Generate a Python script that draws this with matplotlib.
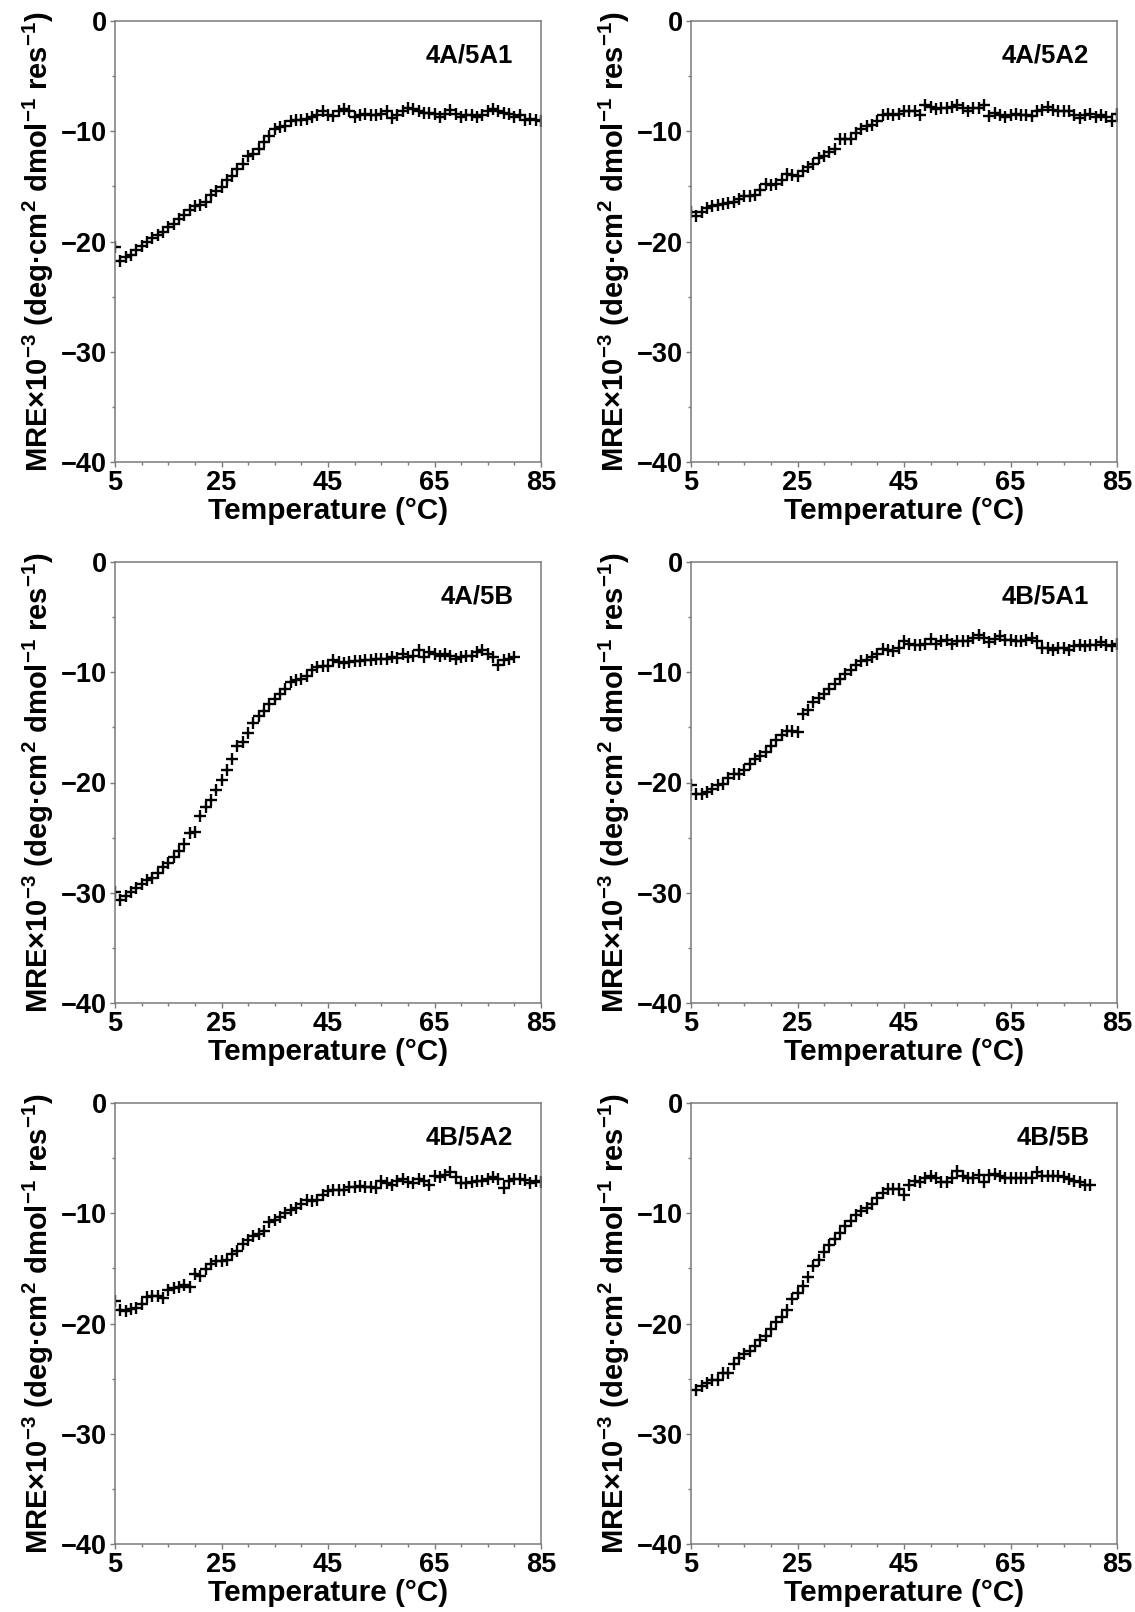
import matplotlib
matplotlib.use("Agg")
import matplotlib.pyplot as plt
from matplotlib.ticker import MultipleLocator, FixedLocator

plt.rcParams['font.family'] = ['Liberation Sans', 'DejaVu Sans']
plt.rcParams['font.weight'] = 'bold'
plt.rcParams['mathtext.default'] = 'regular'

# ---------------- data ----------------
TEMPS_5_85 = [5, 6, 7, 8, 9, 10, 11, 12, 13, 14, 15, 16, 17, 18, 19, 20, 21, 22, 23, 24, 25,
              26, 27, 28, 29, 30, 31, 32, 33, 34, 35, 36, 37, 38, 39, 40, 41, 42, 43, 44, 45,
              46, 47, 48, 49, 50, 51, 52, 53, 54, 55, 56, 57, 58, 59, 60, 61, 62, 63, 64, 65,
              66, 67, 68, 69, 70, 71, 72, 73, 74, 75, 76, 77, 78, 79, 80, 81, 82, 83, 84, 85]
TEMPS_5_80 = [5, 6, 7, 8, 9, 10, 11, 12, 13, 14, 15, 16, 17, 18, 19, 20, 21, 22, 23, 24, 25,
              26, 27, 28, 29, 30, 31, 32, 33, 34, 35, 36, 37, 38, 39, 40, 41, 42, 43, 44, 45,
              46, 47, 48, 49, 50, 51, 52, 53, 54, 55, 56, 57, 58, 59, 60, 61, 62, 63, 64, 65,
              66, 67, 68, 69, 70, 71, 72, 73, 74, 75, 76, 77, 78, 79, 80]
TEMPS_6_80 = [6, 7, 8, 9, 10, 11, 12, 13, 14, 15, 16, 17, 18, 19, 20, 21, 22, 23, 24, 25,
              26, 27, 28, 29, 30, 31, 32, 33, 34, 35, 36, 37, 38, 39, 40, 41, 42, 43, 44, 45,
              46, 47, 48, 49, 50, 51, 52, 53, 54, 55, 56, 57, 58, 59, 60, 61, 62, 63, 64, 65,
              66, 67, 68, 69, 70, 71, 72, 73, 74, 75, 76, 77, 78, 79, 80]

MRE_4A_5A1 = [-20.5, -21.8, -21.4, -21.2, -20.8, -20.4, -20.0, -19.7, -19.4, -19.1, -18.7,
              -18.4, -18.0, -17.6, -17.1, -16.8, -16.7, -16.4, -15.8, -15.4, -15.1,
              -14.4, -14.1, -13.4, -13.0, -12.2, -12.1, -11.6, -11.0, -10.4, -9.8,
              -9.6, -9.5, -9.1, -9.0, -9.0, -8.9, -8.7, -8.5, -8.2, -8.5,
              -8.6, -8.2, -8.0, -8.2, -8.7, -8.5, -8.4, -8.5, -8.5, -8.4,
              -8.2, -8.8, -8.5, -8.2, -7.9, -8.0, -8.2, -8.3, -8.3, -8.4,
              -8.7, -8.4, -8.1, -8.4, -8.7, -8.5, -8.5, -8.7, -8.5, -8.2,
              -8.0, -8.2, -8.3, -8.4, -8.7, -8.5, -9.0, -8.9, -9.0, -9.1]
MRE_4A_5A2 = [-17.3, -17.7, -17.3, -17.0, -16.8, -16.7, -16.6, -16.5, -16.4, -16.1, -15.9,
              -15.9, -15.8, -15.3, -14.8, -14.9, -14.8, -14.4, -13.9, -14.0, -14.1,
              -13.6, -13.2, -13.0, -12.4, -12.2, -11.9, -11.6, -10.7, -10.7, -10.7,
              -10.2, -9.8, -9.5, -9.4, -9.1, -8.5, -8.4, -8.5, -8.4, -8.2,
              -8.2, -8.2, -8.5, -7.6, -7.8, -8.0, -7.9, -7.9, -7.8, -7.6,
              -7.9, -8.2, -7.9, -7.9, -7.6, -8.6, -8.3, -8.5, -8.7, -8.5,
              -8.4, -8.5, -8.5, -8.6, -8.2, -8.1, -7.8, -8.1, -8.2, -8.2,
              -8.2, -8.5, -8.8, -8.5, -8.4, -8.7, -8.5, -8.7, -9.1, -8.4]
MRE_4A_5B = [-29.9, -30.7, -30.3, -29.9, -29.6, -29.2, -28.8, -28.7, -28.2, -27.7, -27.3,
             -26.8, -26.2, -25.6, -24.6, -24.5, -23.0, -22.2, -21.6, -20.7, -19.8,
             -18.9, -17.9, -16.7, -16.3, -15.5, -14.6, -14.0, -13.5, -12.9, -12.4,
             -12.0, -11.5, -10.9, -10.7, -10.6, -10.3, -9.8, -9.5, -9.4, -9.4,
             -8.9, -9.1, -9.2, -9.1, -9.0, -9.0, -8.9, -8.9, -8.8, -8.8,
             -8.8, -8.6, -8.7, -8.3, -8.6, -8.5, -8.0, -8.6, -8.2, -8.3,
             -8.5, -8.3, -8.5, -8.8, -8.6, -8.5, -8.5, -8.2, -8.0, -8.3,
             -8.6, -9.3, -8.9, -8.8, -8.6]
MRE_4B_5A1 = [-20.2, -21.0, -21.0, -20.9, -20.6, -20.2, -20.1, -19.6, -19.2, -19.2, -18.9,
              -18.3, -17.9, -17.6, -17.2, -16.7, -16.1, -15.7, -15.3, -15.3, -15.4,
              -13.8, -13.4, -12.7, -12.3, -12.0, -11.5, -11.1, -10.6, -10.2, -9.8,
              -9.3, -9.0, -8.9, -8.6, -8.3, -7.9, -8.0, -8.1, -7.8, -7.2,
              -7.4, -7.5, -7.5, -7.4, -7.0, -7.4, -7.2, -7.1, -7.4, -7.2,
              -7.2, -7.2, -6.9, -6.6, -6.9, -7.3, -7.0, -6.7, -7.1, -7.1,
              -7.2, -7.2, -7.1, -6.9, -7.2, -7.8, -7.8, -8.0, -7.8, -7.8,
              -8.0, -7.6, -7.5, -7.6, -7.5, -7.5, -7.3, -7.5, -7.6, -7.4]
MRE_4B_5A2 = [-18.0, -18.8, -18.9, -18.7, -18.6, -18.2, -17.6, -17.5, -17.5, -17.7, -17.0,
              -16.8, -16.7, -16.5, -16.7, -15.5, -15.7, -15.1, -14.6, -14.3, -14.3,
              -14.2, -13.7, -13.4, -12.8, -12.4, -12.1, -11.9, -11.6, -10.8, -10.6,
              -10.3, -10.0, -9.7, -9.5, -9.2, -8.8, -8.9, -8.8, -8.3, -8.0,
              -7.9, -7.9, -7.9, -7.6, -7.6, -7.5, -7.6, -7.6, -7.7, -7.1,
              -7.3, -7.4, -7.1, -6.9, -7.2, -7.3, -6.9, -7.1, -7.4, -6.6,
              -6.7, -6.5, -6.3, -6.7, -7.3, -7.3, -7.2, -7.1, -7.1, -6.9,
              -6.7, -6.9, -7.7, -7.1, -6.9, -6.9, -7.0, -7.3, -7.1, -7.2]
MRE_4B_5B = [-26.0, -25.7, -25.4, -25.1, -25.1, -24.5, -24.5, -23.7, -23.1, -22.8,
             -22.5, -22.0, -21.5, -21.1, -20.5, -19.9, -19.4, -18.8, -17.8, -17.2,
             -16.6, -15.8, -14.8, -14.2, -13.5, -12.9, -12.3, -11.8, -11.2, -10.7,
             -10.2, -9.8, -9.5, -9.2, -8.6, -8.2, -7.8, -7.8, -7.8, -8.3,
             -7.4, -7.1, -7.2, -6.8, -6.6, -6.8, -7.2, -7.2, -6.8, -6.2,
             -6.6, -6.8, -6.8, -6.5, -7.2, -6.5, -6.4, -6.6, -6.8, -6.8,
             -6.8, -6.8, -6.8, -6.8, -6.3, -6.6, -6.6, -6.6, -6.6, -6.7,
             -6.9, -7.1, -7.2, -7.4, -7.4]

PANEL_LABELS = ['4A/5A1', '4A/5A2', '4A/5B', '4B/5A1', '4B/5A2', '4B/5B']
PANEL_TEMPS = [TEMPS_5_85, TEMPS_5_85, TEMPS_5_80, TEMPS_5_85, TEMPS_5_85, TEMPS_6_80]
PANEL_MRE = [MRE_4A_5A1, MRE_4A_5A2, MRE_4A_5B, MRE_4B_5A1, MRE_4B_5A2, MRE_4B_5B]

X_TICKS = [5, 25, 45, 65, 85]
X_TICK_LABELS = ['5', '25', '45', '65', '85']
Y_TICKS = [0, -10, -20, -30, -40]

X_LABEL = 'Temperature (°C)'
Y_LABEL = r'MRE×10$^{−3}$ (deg·cm$^{2}$ dmol$^{−1}$ res$^{−1}$)'

# ---------------- layout ----------------
W, H = 1135, 1612
fig = plt.figure(figsize=(W / 100, H / 100), dpi=100)

col_left = [115, 691]
col_w = 426
row_top = [21, 562, 1103]
row_h = 441

spine_col = '#7a7a7a'

for i in range(6):
    r, c = divmod(i, 2)
    l = col_left[c] / W
    b = 1 - (row_top[r] + row_h) / H
    ax = fig.add_axes([l, b, col_w / W, row_h / H])
    ax.plot(PANEL_TEMPS[i], PANEL_MRE[i], linestyle='none', marker='+',
            markersize=8, markeredgewidth=1.7, color='black')
    ax.set_xlim(5, 85)
    ax.set_ylim(-40, 0)
    ax.xaxis.set_major_locator(FixedLocator(X_TICKS))
    ax.set_xticklabels(X_TICK_LABELS)
    ax.xaxis.set_minor_locator(MultipleLocator(5))
    ax.yaxis.set_major_locator(FixedLocator(Y_TICKS))
    ax.yaxis.set_minor_locator(MultipleLocator(5))
    for s in ax.spines.values():
        s.set_color(spine_col)
        s.set_linewidth(1.1)
    ax.tick_params(which='both', direction='out', color=spine_col, width=1.0,
                   labelsize=19.5, pad=2)
    ax.tick_params(which='major', length=3.5)
    ax.tick_params(which='minor', length=2.2)
    for lab in ax.get_xticklabels() + ax.get_yticklabels():
        lab.set_fontweight('bold')
    ax.set_xlabel(X_LABEL, fontsize=21.5, fontweight='bold', labelpad=1)
    ax.set_ylabel(Y_LABEL, fontsize=21, fontweight='bold', labelpad=4)
    ax.text(0.935, 0.905, PANEL_LABELS[i], transform=ax.transAxes,
            ha='right', va='baseline', fontsize=18.5, fontweight='bold')

fig.savefig('out.png', dpi=100)
